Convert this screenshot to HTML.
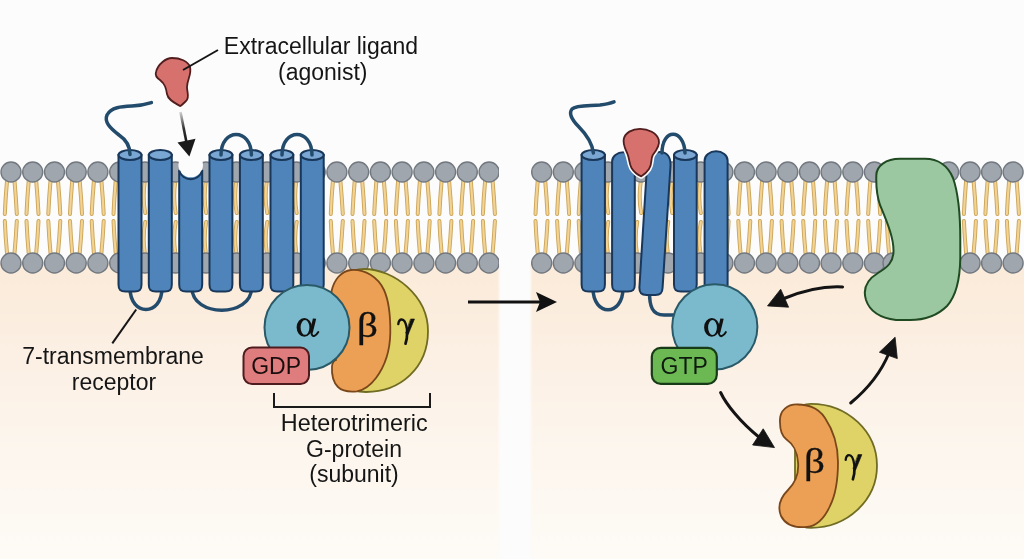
<!DOCTYPE html>
<html><head><meta charset="utf-8"><style>
html,body{margin:0;padding:0;background:#fcfcfc;}
svg{display:block;will-change:transform}
text{font-family:"Liberation Sans",sans-serif;}
</style></head><body>
<svg width="1024" height="559" viewBox="0 0 1024 559">
<defs>
<linearGradient id="peach" x1="0" y1="0" x2="0" y2="1">
<stop offset="0" stop-color="#fbead9"/>
<stop offset="0.3" stop-color="#fcf0e4"/>
<stop offset="0.6" stop-color="#fdf6ee"/>
<stop offset="1" stop-color="#fefcf8"/>
</linearGradient>
<filter id="soft" x="-0.1" y="-0.1" width="1.2" height="1.2"><feGaussianBlur stdDeviation="1.2"/></filter>
<linearGradient id="arrfade" gradientUnits="userSpaceOnUse" x1="180" y1="112" x2="187" y2="145"><stop offset="0" stop-color="#d4d4d4"/><stop offset="0.5" stop-color="#333"/><stop offset="1" stop-color="#111"/></linearGradient>
<clipPath id="clipL"><rect x="0" y="0" width="499" height="559"/></clipPath>
<clipPath id="clipR"><rect x="531" y="0" width="493" height="559"/></clipPath>
</defs>
<rect x="0" y="0" width="1024" height="559" fill="#fcfcfc"/>
<g filter="url(#soft)">
<rect x="-20" y="263" width="519" height="316" fill="url(#peach)"/>
<rect x="531" y="263" width="513" height="316" fill="url(#peach)"/>
</g>

<g clip-path="url(#clipL)"><path d="M144.7,182 Q142.4,198 145.2,213 M175.2,182 Q172.9,198 175.7,213 M205.7,182 Q203.4,198 206.2,213 M236.2,182 Q233.9,198 236.7,213 M266.7,182 Q264.4,198 267.2,213 M296.2,182 Q293.9,198 296.7,213 M145.2,222 Q142.4,237 144.7,252 M175.7,222 Q172.9,237 175.2,252 M206.2,222 Q203.4,237 205.7,252 M236.7,222 Q233.9,237 236.2,252 M267.2,222 Q264.4,237 266.7,252 M296.7,222 Q293.9,237 296.2,252 M7.0,181 Q5.5,198 4.8,214 M14.5,181 Q16.0,198 16.8,214 M28.7,181 Q27.2,198 26.5,214 M36.2,181 Q37.7,198 38.5,214 M50.5,181 Q49.0,198 48.3,214 M58.0,181 Q59.5,198 60.3,214 M72.2,181 Q70.7,198 70.0,214 M79.7,181 Q81.2,198 82.0,214 M93.9,181 Q92.4,198 91.7,214 M101.4,181 Q102.9,198 103.7,214 M115.7,181 Q114.2,198 113.5,214 M123.2,181 Q124.7,198 125.5,214 M311.2,181 Q309.7,198 309.0,214 M318.7,181 Q320.2,198 321.0,214 M332.9,181 Q331.4,198 330.8,214 M340.4,181 Q341.9,198 342.8,214 M354.7,181 Q353.2,198 352.5,214 M362.2,181 Q363.7,198 364.5,214 M376.4,181 Q374.9,198 374.2,214 M383.9,181 Q385.4,198 386.2,214 M398.1,181 Q396.6,198 395.9,214 M405.6,181 Q407.1,198 407.9,214 M419.9,181 Q418.4,198 417.7,214 M427.4,181 Q428.9,198 429.7,214 M441.6,181 Q440.1,198 439.4,214 M449.1,181 Q450.6,198 451.4,214 M463.3,181 Q461.8,198 461.1,214 M470.8,181 Q472.3,198 473.1,214 M485.1,181 Q483.6,198 482.9,214 M492.6,181 Q494.1,198 494.9,214 M4.8,221 Q5.5,237 7.0,253 M16.8,221 Q16.0,237 14.5,253 M26.5,221 Q27.2,237 28.7,253 M38.5,221 Q37.7,237 36.2,253 M48.3,221 Q49.0,237 50.5,253 M60.3,221 Q59.5,237 58.0,253 M70.0,221 Q70.7,237 72.2,253 M82.0,221 Q81.2,237 79.7,253 M91.7,221 Q92.4,237 93.9,253 M103.7,221 Q102.9,237 101.4,253 M113.5,221 Q114.2,237 115.7,253 M125.5,221 Q124.7,237 123.2,253 M309.0,221 Q309.7,237 311.2,253 M321.0,221 Q320.2,237 318.7,253 M330.8,221 Q331.4,237 332.9,253 M342.8,221 Q341.9,237 340.4,253 M352.5,221 Q353.2,237 354.7,253 M364.5,221 Q363.7,237 362.2,253 M374.2,221 Q374.9,237 376.4,253 M386.2,221 Q385.4,237 383.9,253 M395.9,221 Q396.6,237 398.1,253 M407.9,221 Q407.1,237 405.6,253 M417.7,221 Q418.4,237 419.9,253 M429.7,221 Q428.9,237 427.4,253 M439.4,221 Q440.1,237 441.6,253 M451.4,221 Q450.6,237 449.1,253 M461.1,221 Q461.8,237 463.3,253 M473.1,221 Q472.3,237 470.8,253 M482.9,221 Q483.6,237 485.1,253 M494.9,221 Q494.1,237 492.6,253" fill="none" stroke="#cba458" stroke-width="4" stroke-linecap="round"/>
<path d="M144.7,182 Q142.4,198 145.2,213 M175.2,182 Q172.9,198 175.7,213 M205.7,182 Q203.4,198 206.2,213 M236.2,182 Q233.9,198 236.7,213 M266.7,182 Q264.4,198 267.2,213 M296.2,182 Q293.9,198 296.7,213 M145.2,222 Q142.4,237 144.7,252 M175.7,222 Q172.9,237 175.2,252 M206.2,222 Q203.4,237 205.7,252 M236.7,222 Q233.9,237 236.2,252 M267.2,222 Q264.4,237 266.7,252 M296.7,222 Q293.9,237 296.2,252 M7.0,181 Q5.5,198 4.8,214 M14.5,181 Q16.0,198 16.8,214 M28.7,181 Q27.2,198 26.5,214 M36.2,181 Q37.7,198 38.5,214 M50.5,181 Q49.0,198 48.3,214 M58.0,181 Q59.5,198 60.3,214 M72.2,181 Q70.7,198 70.0,214 M79.7,181 Q81.2,198 82.0,214 M93.9,181 Q92.4,198 91.7,214 M101.4,181 Q102.9,198 103.7,214 M115.7,181 Q114.2,198 113.5,214 M123.2,181 Q124.7,198 125.5,214 M311.2,181 Q309.7,198 309.0,214 M318.7,181 Q320.2,198 321.0,214 M332.9,181 Q331.4,198 330.8,214 M340.4,181 Q341.9,198 342.8,214 M354.7,181 Q353.2,198 352.5,214 M362.2,181 Q363.7,198 364.5,214 M376.4,181 Q374.9,198 374.2,214 M383.9,181 Q385.4,198 386.2,214 M398.1,181 Q396.6,198 395.9,214 M405.6,181 Q407.1,198 407.9,214 M419.9,181 Q418.4,198 417.7,214 M427.4,181 Q428.9,198 429.7,214 M441.6,181 Q440.1,198 439.4,214 M449.1,181 Q450.6,198 451.4,214 M463.3,181 Q461.8,198 461.1,214 M470.8,181 Q472.3,198 473.1,214 M485.1,181 Q483.6,198 482.9,214 M492.6,181 Q494.1,198 494.9,214 M4.8,221 Q5.5,237 7.0,253 M16.8,221 Q16.0,237 14.5,253 M26.5,221 Q27.2,237 28.7,253 M38.5,221 Q37.7,237 36.2,253 M48.3,221 Q49.0,237 50.5,253 M60.3,221 Q59.5,237 58.0,253 M70.0,221 Q70.7,237 72.2,253 M82.0,221 Q81.2,237 79.7,253 M91.7,221 Q92.4,237 93.9,253 M103.7,221 Q102.9,237 101.4,253 M113.5,221 Q114.2,237 115.7,253 M125.5,221 Q124.7,237 123.2,253 M309.0,221 Q309.7,237 311.2,253 M321.0,221 Q320.2,237 318.7,253 M330.8,221 Q331.4,237 332.9,253 M342.8,221 Q341.9,237 340.4,253 M352.5,221 Q353.2,237 354.7,253 M364.5,221 Q363.7,237 362.2,253 M374.2,221 Q374.9,237 376.4,253 M386.2,221 Q385.4,237 383.9,253 M395.9,221 Q396.6,237 398.1,253 M407.9,221 Q407.1,237 405.6,253 M417.7,221 Q418.4,237 419.9,253 M429.7,221 Q428.9,237 427.4,253 M439.4,221 Q440.1,237 441.6,253 M451.4,221 Q450.6,237 449.1,253 M461.1,221 Q461.8,237 463.3,253 M473.1,221 Q472.3,237 470.8,253 M482.9,221 Q483.6,237 485.1,253 M494.9,221 Q494.1,237 492.6,253" fill="none" stroke="#f2d393" stroke-width="2.2" stroke-linecap="round"/>
<circle cx="11.0" cy="172" r="10" fill="#a0a6ae" stroke="#72787f" stroke-width="1.4"/>
<circle cx="32.7" cy="172" r="10" fill="#a0a6ae" stroke="#72787f" stroke-width="1.4"/>
<circle cx="54.5" cy="172" r="10" fill="#a0a6ae" stroke="#72787f" stroke-width="1.4"/>
<circle cx="76.2" cy="172" r="10" fill="#a0a6ae" stroke="#72787f" stroke-width="1.4"/>
<circle cx="97.9" cy="172" r="10" fill="#a0a6ae" stroke="#72787f" stroke-width="1.4"/>
<circle cx="119.7" cy="172" r="10" fill="#a0a6ae" stroke="#72787f" stroke-width="1.4"/>
<circle cx="315.2" cy="172" r="10" fill="#a0a6ae" stroke="#72787f" stroke-width="1.4"/>
<circle cx="336.9" cy="172" r="10" fill="#a0a6ae" stroke="#72787f" stroke-width="1.4"/>
<circle cx="358.7" cy="172" r="10" fill="#a0a6ae" stroke="#72787f" stroke-width="1.4"/>
<circle cx="380.4" cy="172" r="10" fill="#a0a6ae" stroke="#72787f" stroke-width="1.4"/>
<circle cx="402.1" cy="172" r="10" fill="#a0a6ae" stroke="#72787f" stroke-width="1.4"/>
<circle cx="423.9" cy="172" r="10" fill="#a0a6ae" stroke="#72787f" stroke-width="1.4"/>
<circle cx="445.6" cy="172" r="10" fill="#a0a6ae" stroke="#72787f" stroke-width="1.4"/>
<circle cx="467.3" cy="172" r="10" fill="#a0a6ae" stroke="#72787f" stroke-width="1.4"/>
<circle cx="489.1" cy="172" r="10" fill="#a0a6ae" stroke="#72787f" stroke-width="1.4"/>
<circle cx="11.0" cy="263" r="10" fill="#a0a6ae" stroke="#72787f" stroke-width="1.4"/>
<circle cx="32.7" cy="263" r="10" fill="#a0a6ae" stroke="#72787f" stroke-width="1.4"/>
<circle cx="54.5" cy="263" r="10" fill="#a0a6ae" stroke="#72787f" stroke-width="1.4"/>
<circle cx="76.2" cy="263" r="10" fill="#a0a6ae" stroke="#72787f" stroke-width="1.4"/>
<circle cx="97.9" cy="263" r="10" fill="#a0a6ae" stroke="#72787f" stroke-width="1.4"/>
<circle cx="119.7" cy="263" r="10" fill="#a0a6ae" stroke="#72787f" stroke-width="1.4"/>
<circle cx="315.2" cy="263" r="10" fill="#a0a6ae" stroke="#72787f" stroke-width="1.4"/>
<circle cx="336.9" cy="263" r="10" fill="#a0a6ae" stroke="#72787f" stroke-width="1.4"/>
<circle cx="358.7" cy="263" r="10" fill="#a0a6ae" stroke="#72787f" stroke-width="1.4"/>
<circle cx="380.4" cy="263" r="10" fill="#a0a6ae" stroke="#72787f" stroke-width="1.4"/>
<circle cx="402.1" cy="263" r="10" fill="#a0a6ae" stroke="#72787f" stroke-width="1.4"/>
<circle cx="423.9" cy="263" r="10" fill="#a0a6ae" stroke="#72787f" stroke-width="1.4"/>
<circle cx="445.6" cy="263" r="10" fill="#a0a6ae" stroke="#72787f" stroke-width="1.4"/>
<circle cx="467.3" cy="263" r="10" fill="#a0a6ae" stroke="#72787f" stroke-width="1.4"/>
<circle cx="489.1" cy="263" r="10" fill="#a0a6ae" stroke="#72787f" stroke-width="1.4"/><circle cx="145" cy="172" r="10" fill="#a0a6ae" stroke="#72787f" stroke-width="1.4"/><circle cx="145" cy="263" r="10" fill="#a0a6ae" stroke="#72787f" stroke-width="1.4"/><circle cx="175.5" cy="172" r="10" fill="#a0a6ae" stroke="#72787f" stroke-width="1.4"/><circle cx="175.5" cy="263" r="10" fill="#a0a6ae" stroke="#72787f" stroke-width="1.4"/><circle cx="206" cy="172" r="10" fill="#a0a6ae" stroke="#72787f" stroke-width="1.4"/><circle cx="206" cy="263" r="10" fill="#a0a6ae" stroke="#72787f" stroke-width="1.4"/><circle cx="236.5" cy="172" r="10" fill="#a0a6ae" stroke="#72787f" stroke-width="1.4"/><circle cx="236.5" cy="263" r="10" fill="#a0a6ae" stroke="#72787f" stroke-width="1.4"/><circle cx="267" cy="172" r="10" fill="#a0a6ae" stroke="#72787f" stroke-width="1.4"/><circle cx="267" cy="263" r="10" fill="#a0a6ae" stroke="#72787f" stroke-width="1.4"/><circle cx="296.5" cy="172" r="10" fill="#a0a6ae" stroke="#72787f" stroke-width="1.4"/><circle cx="296.5" cy="263" r="10" fill="#a0a6ae" stroke="#72787f" stroke-width="1.4"/></g>
<g clip-path="url(#clipR)"><path d="M607.7,182 Q605.4,198 608.2,213 M640.7,182 Q638.4,198 641.2,213 M671.7,182 Q669.4,198 672.2,213 M700.3,182 Q698.0,198 700.8,213 M608.2,222 Q605.4,237 607.7,252 M637.2,222 Q634.4,237 636.7,252 M668.2,222 Q665.4,237 667.7,252 M700.8,222 Q698.0,237 700.3,252 M537.7,181 Q536.2,198 535.5,214 M545.2,181 Q546.7,198 547.5,214 M559.3,181 Q557.8,198 557.1,214 M566.8,181 Q568.3,198 569.1,214 M580.9,181 Q579.4,198 578.7,214 M588.4,181 Q589.9,198 590.7,214 M718.9,181 Q717.4,198 716.6,214 M726.4,181 Q727.9,198 728.6,214 M740.5,181 Q739.0,198 738.3,214 M748.0,181 Q749.5,198 750.3,214 M762.1,181 Q760.6,198 759.9,214 M769.6,181 Q771.1,198 771.9,214 M783.8,181 Q782.3,198 781.6,214 M791.3,181 Q792.8,198 793.6,214 M805.5,181 Q804.0,198 803.2,214 M813.0,181 Q814.5,198 815.2,214 M827.1,181 Q825.6,198 824.9,214 M834.6,181 Q836.1,198 836.9,214 M848.8,181 Q847.2,198 846.5,214 M856.2,181 Q857.8,198 858.5,214 M870.4,181 Q868.9,198 868.2,214 M877.9,181 Q879.4,198 880.2,214 M944.6,181 Q943.1,198 942.4,214 M952.1,181 Q953.6,198 954.4,214 M966.1,181 Q964.6,198 963.9,214 M973.6,181 Q975.1,198 975.9,214 M987.6,181 Q986.1,198 985.4,214 M995.1,181 Q996.6,198 997.4,214 M1009.1,181 Q1007.6,198 1006.9,214 M1016.6,181 Q1018.1,198 1018.9,214 M535.5,221 Q536.2,237 537.7,253 M547.5,221 Q546.7,237 545.2,253 M557.1,221 Q557.8,237 559.3,253 M569.1,221 Q568.3,237 566.8,253 M578.7,221 Q579.4,237 580.9,253 M590.7,221 Q589.9,237 588.4,253 M716.6,221 Q717.4,237 718.9,253 M728.6,221 Q727.9,237 726.4,253 M738.3,221 Q739.0,237 740.5,253 M750.3,221 Q749.5,237 748.0,253 M759.9,221 Q760.6,237 762.1,253 M771.9,221 Q771.1,237 769.6,253 M781.6,221 Q782.3,237 783.8,253 M793.6,221 Q792.8,237 791.3,253 M803.2,221 Q804.0,237 805.5,253 M815.2,221 Q814.5,237 813.0,253 M824.9,221 Q825.6,237 827.1,253 M836.9,221 Q836.1,237 834.6,253 M846.5,221 Q847.2,237 848.8,253 M858.5,221 Q857.8,237 856.2,253 M868.2,221 Q868.9,237 870.4,253 M880.2,221 Q879.4,237 877.9,253 M942.4,221 Q943.1,237 944.6,253 M954.4,221 Q953.6,237 952.1,253 M963.9,221 Q964.6,237 966.1,253 M975.9,221 Q975.1,237 973.6,253 M985.4,221 Q986.1,237 987.6,253 M997.4,221 Q996.6,237 995.1,253 M1006.9,221 Q1007.6,237 1009.1,253 M1018.9,221 Q1018.1,237 1016.6,253 M886.8,221 Q887.5,237 889.0,253 M898.8,221 Q898.0,237 896.5,253" fill="none" stroke="#cba458" stroke-width="4" stroke-linecap="round"/>
<path d="M607.7,182 Q605.4,198 608.2,213 M640.7,182 Q638.4,198 641.2,213 M671.7,182 Q669.4,198 672.2,213 M700.3,182 Q698.0,198 700.8,213 M608.2,222 Q605.4,237 607.7,252 M637.2,222 Q634.4,237 636.7,252 M668.2,222 Q665.4,237 667.7,252 M700.8,222 Q698.0,237 700.3,252 M537.7,181 Q536.2,198 535.5,214 M545.2,181 Q546.7,198 547.5,214 M559.3,181 Q557.8,198 557.1,214 M566.8,181 Q568.3,198 569.1,214 M580.9,181 Q579.4,198 578.7,214 M588.4,181 Q589.9,198 590.7,214 M718.9,181 Q717.4,198 716.6,214 M726.4,181 Q727.9,198 728.6,214 M740.5,181 Q739.0,198 738.3,214 M748.0,181 Q749.5,198 750.3,214 M762.1,181 Q760.6,198 759.9,214 M769.6,181 Q771.1,198 771.9,214 M783.8,181 Q782.3,198 781.6,214 M791.3,181 Q792.8,198 793.6,214 M805.5,181 Q804.0,198 803.2,214 M813.0,181 Q814.5,198 815.2,214 M827.1,181 Q825.6,198 824.9,214 M834.6,181 Q836.1,198 836.9,214 M848.8,181 Q847.2,198 846.5,214 M856.2,181 Q857.8,198 858.5,214 M870.4,181 Q868.9,198 868.2,214 M877.9,181 Q879.4,198 880.2,214 M944.6,181 Q943.1,198 942.4,214 M952.1,181 Q953.6,198 954.4,214 M966.1,181 Q964.6,198 963.9,214 M973.6,181 Q975.1,198 975.9,214 M987.6,181 Q986.1,198 985.4,214 M995.1,181 Q996.6,198 997.4,214 M1009.1,181 Q1007.6,198 1006.9,214 M1016.6,181 Q1018.1,198 1018.9,214 M535.5,221 Q536.2,237 537.7,253 M547.5,221 Q546.7,237 545.2,253 M557.1,221 Q557.8,237 559.3,253 M569.1,221 Q568.3,237 566.8,253 M578.7,221 Q579.4,237 580.9,253 M590.7,221 Q589.9,237 588.4,253 M716.6,221 Q717.4,237 718.9,253 M728.6,221 Q727.9,237 726.4,253 M738.3,221 Q739.0,237 740.5,253 M750.3,221 Q749.5,237 748.0,253 M759.9,221 Q760.6,237 762.1,253 M771.9,221 Q771.1,237 769.6,253 M781.6,221 Q782.3,237 783.8,253 M793.6,221 Q792.8,237 791.3,253 M803.2,221 Q804.0,237 805.5,253 M815.2,221 Q814.5,237 813.0,253 M824.9,221 Q825.6,237 827.1,253 M836.9,221 Q836.1,237 834.6,253 M846.5,221 Q847.2,237 848.8,253 M858.5,221 Q857.8,237 856.2,253 M868.2,221 Q868.9,237 870.4,253 M880.2,221 Q879.4,237 877.9,253 M942.4,221 Q943.1,237 944.6,253 M954.4,221 Q953.6,237 952.1,253 M963.9,221 Q964.6,237 966.1,253 M975.9,221 Q975.1,237 973.6,253 M985.4,221 Q986.1,237 987.6,253 M997.4,221 Q996.6,237 995.1,253 M1006.9,221 Q1007.6,237 1009.1,253 M1018.9,221 Q1018.1,237 1016.6,253 M886.8,221 Q887.5,237 889.0,253 M898.8,221 Q898.0,237 896.5,253" fill="none" stroke="#f2d393" stroke-width="2.2" stroke-linecap="round"/>
<circle cx="541.7" cy="172" r="10" fill="#a0a6ae" stroke="#72787f" stroke-width="1.4"/>
<circle cx="563.3" cy="172" r="10" fill="#a0a6ae" stroke="#72787f" stroke-width="1.4"/>
<circle cx="584.9" cy="172" r="10" fill="#a0a6ae" stroke="#72787f" stroke-width="1.4"/>
<circle cx="722.9" cy="172" r="10" fill="#a0a6ae" stroke="#72787f" stroke-width="1.4"/>
<circle cx="744.5" cy="172" r="10" fill="#a0a6ae" stroke="#72787f" stroke-width="1.4"/>
<circle cx="766.1" cy="172" r="10" fill="#a0a6ae" stroke="#72787f" stroke-width="1.4"/>
<circle cx="787.8" cy="172" r="10" fill="#a0a6ae" stroke="#72787f" stroke-width="1.4"/>
<circle cx="809.5" cy="172" r="10" fill="#a0a6ae" stroke="#72787f" stroke-width="1.4"/>
<circle cx="831.1" cy="172" r="10" fill="#a0a6ae" stroke="#72787f" stroke-width="1.4"/>
<circle cx="852.8" cy="172" r="10" fill="#a0a6ae" stroke="#72787f" stroke-width="1.4"/>
<circle cx="874.4" cy="172" r="10" fill="#a0a6ae" stroke="#72787f" stroke-width="1.4"/>
<circle cx="948.6" cy="172" r="10" fill="#a0a6ae" stroke="#72787f" stroke-width="1.4"/>
<circle cx="970.1" cy="172" r="10" fill="#a0a6ae" stroke="#72787f" stroke-width="1.4"/>
<circle cx="991.6" cy="172" r="10" fill="#a0a6ae" stroke="#72787f" stroke-width="1.4"/>
<circle cx="1013.1" cy="172" r="10" fill="#a0a6ae" stroke="#72787f" stroke-width="1.4"/>
<circle cx="541.7" cy="263" r="10" fill="#a0a6ae" stroke="#72787f" stroke-width="1.4"/>
<circle cx="563.3" cy="263" r="10" fill="#a0a6ae" stroke="#72787f" stroke-width="1.4"/>
<circle cx="584.9" cy="263" r="10" fill="#a0a6ae" stroke="#72787f" stroke-width="1.4"/>
<circle cx="722.9" cy="263" r="10" fill="#a0a6ae" stroke="#72787f" stroke-width="1.4"/>
<circle cx="744.5" cy="263" r="10" fill="#a0a6ae" stroke="#72787f" stroke-width="1.4"/>
<circle cx="766.1" cy="263" r="10" fill="#a0a6ae" stroke="#72787f" stroke-width="1.4"/>
<circle cx="787.8" cy="263" r="10" fill="#a0a6ae" stroke="#72787f" stroke-width="1.4"/>
<circle cx="809.5" cy="263" r="10" fill="#a0a6ae" stroke="#72787f" stroke-width="1.4"/>
<circle cx="831.1" cy="263" r="10" fill="#a0a6ae" stroke="#72787f" stroke-width="1.4"/>
<circle cx="852.8" cy="263" r="10" fill="#a0a6ae" stroke="#72787f" stroke-width="1.4"/>
<circle cx="874.4" cy="263" r="10" fill="#a0a6ae" stroke="#72787f" stroke-width="1.4"/>
<circle cx="948.6" cy="263" r="10" fill="#a0a6ae" stroke="#72787f" stroke-width="1.4"/>
<circle cx="970.1" cy="263" r="10" fill="#a0a6ae" stroke="#72787f" stroke-width="1.4"/>
<circle cx="991.6" cy="263" r="10" fill="#a0a6ae" stroke="#72787f" stroke-width="1.4"/>
<circle cx="1013.1" cy="263" r="10" fill="#a0a6ae" stroke="#72787f" stroke-width="1.4"/>
<circle cx="893.0" cy="263" r="10" fill="#a0a6ae" stroke="#72787f" stroke-width="1.4"/><circle cx="608" cy="172" r="10" fill="#a0a6ae" stroke="#72787f" stroke-width="1.4"/><circle cx="641" cy="172" r="10" fill="#a0a6ae" stroke="#72787f" stroke-width="1.4"/><circle cx="672" cy="172" r="10" fill="#a0a6ae" stroke="#72787f" stroke-width="1.4"/><circle cx="700.6" cy="172" r="10" fill="#a0a6ae" stroke="#72787f" stroke-width="1.4"/><circle cx="608" cy="263" r="10" fill="#a0a6ae" stroke="#72787f" stroke-width="1.4"/><circle cx="637" cy="263" r="10" fill="#a0a6ae" stroke="#72787f" stroke-width="1.4"/><circle cx="668" cy="263" r="10" fill="#a0a6ae" stroke="#72787f" stroke-width="1.4"/><circle cx="700.6" cy="263" r="10" fill="#a0a6ae" stroke="#72787f" stroke-width="1.4"/></g>
<path d="M130,288 C130,316.5 162,316.5 162,288" fill="none" stroke="#234b6c" stroke-width="3.5"/>
<path d="M192,288 C192,317.5 251.5,317.5 251.5,288" fill="none" stroke="#234b6c" stroke-width="3.5"/>
<path d="M118.5,155 L118.5,284.5 C118.5,290.0 120.5,291.5 125.5,291.5 L134.5,291.5 C139.5,291.5 141.5,290.0 141.5,284.5 L141.5,155 Z" fill="#4e84ba" stroke="#18375a" stroke-width="2"/>
<ellipse cx="130.0" cy="155" rx="11.5" ry="5" fill="#79a6d2" stroke="#18375a" stroke-width="2"/>
<path d="M148.8,155 L148.8,284.5 C148.8,290.0 150.8,291.5 155.8,291.5 L164.8,291.5 C169.8,291.5 171.8,290.0 171.8,284.5 L171.8,155 Z" fill="#4e84ba" stroke="#18375a" stroke-width="2"/>
<ellipse cx="160.3" cy="155" rx="11.5" ry="5" fill="#79a6d2" stroke="#18375a" stroke-width="2"/>
<path d="M179.2,170.8 L179.2,284.5 C179.2,290.0 181.2,291.5 186.2,291.5 L195.2,291.5 C200.2,291.5 202.2,290.0 202.2,284.5 L202.2,170.8 Z" fill="#4e84ba" stroke="#18375a" stroke-width="2"/>
<path d="M209.5,155 L209.5,284.5 C209.5,290.0 211.5,291.5 216.5,291.5 L225.4,291.5 C230.4,291.5 232.4,290.0 232.4,284.5 L232.4,155 Z" fill="#4e84ba" stroke="#18375a" stroke-width="2"/>
<ellipse cx="220.95" cy="155" rx="11.450000000000003" ry="5" fill="#79a6d2" stroke="#18375a" stroke-width="2"/>
<path d="M239.9,155 L239.9,284.5 C239.9,290.0 241.9,291.5 246.9,291.5 L255.8,291.5 C260.8,291.5 262.8,290.0 262.8,284.5 L262.8,155 Z" fill="#4e84ba" stroke="#18375a" stroke-width="2"/>
<ellipse cx="251.35000000000002" cy="155" rx="11.450000000000003" ry="5" fill="#79a6d2" stroke="#18375a" stroke-width="2"/>
<path d="M270.5,155 L270.5,284.5 C270.5,290.0 272.5,291.5 277.5,291.5 L286.3,291.5 C291.3,291.5 293.3,290.0 293.3,284.5 L293.3,155 Z" fill="#4e84ba" stroke="#18375a" stroke-width="2"/>
<ellipse cx="281.9" cy="155" rx="11.400000000000006" ry="5" fill="#79a6d2" stroke="#18375a" stroke-width="2"/>
<path d="M300.8,155 L300.8,284.5 C300.8,290.0 302.8,291.5 307.8,291.5 L316.7,291.5 C321.7,291.5 323.7,290.0 323.7,284.5 L323.7,155 Z" fill="#4e84ba" stroke="#18375a" stroke-width="2"/>
<ellipse cx="312.25" cy="155" rx="11.449999999999989" ry="5" fill="#79a6d2" stroke="#18375a" stroke-width="2"/>
<circle cx="190.7" cy="165" r="12.3" fill="#fcfcfc"/>
<path d="M179.2,170.8 A12.1,12.1 0 0 0 202.2,170.8" fill="none" stroke="#18375a" stroke-width="2"/>
<path d="M130,154.5 C130,144 125,139 119,135 C110,128 104,122 107,115 C111,107 122,106.5 132,106 C142,105.5 147,104 151.4,102.6" fill="none" stroke="#234b6c" stroke-width="3.5" stroke-linecap="round"/>
<path d="M221,155 C221,127.5 251.4,127.5 251.4,155" fill="none" stroke="#234b6c" stroke-width="3.5" stroke-linecap="round"/>
<path d="M282,155 C282,127.5 312,127.5 312,155" fill="none" stroke="#234b6c" stroke-width="3.5" stroke-linecap="round"/>
<path d="M156,72 C158,64 166,58 172,58 C180,58 188,61 190,67 C192,74 187,80 187,87 C187,93 190,98 186,101 C183,104 181,106 180,106 C175,103 168,100 167,94 C166,88 165,84 160,80 C157,78 155,75 156,72 Z" fill="#d6716d" stroke="#521d1e" stroke-width="1.8"/>
<line x1="183" y1="70" x2="218" y2="50" stroke="#151515" stroke-width="1.9"/>
<path d="M180.5,112 L187,145" stroke="url(#arrfade)" stroke-width="2.6" fill="none"/>
<path d="M177.5,142.5 L195.5,138.8 L189.4,156.5 Z" fill="#1a1a1a"/>
<path d="M345,275 C352,270 358,269 364,269 C394,269 428,296 428,331 C428,368 400,392 366,392 C358,392 350,390 345,385 Z" fill="#dfd266" stroke="#706c24" stroke-width="1.8"/>
<path d="M331.6,291 C334,280 341,271 351,270 C365,269 378,277 384,290 C389,301 390.5,317 390.3,333 C390,350 385,366 376,378 C370,386 364,390 357,391.3 C350,392 342,391 338,387 C333,382 331.5,374 332,366 C332.5,362 334,360.5 336,359.8 L330,325 Z" fill="#eca056" stroke="#7a471a" stroke-width="1.8"/>
<circle cx="307" cy="327.5" r="42.5" fill="#7bbacc" stroke="#2a5a68" stroke-width="2"/>
<rect x="243.5" y="347.5" width="65.5" height="36.5" rx="8.5" fill="#df7c7e" stroke="#4e1c1e" stroke-width="2"/>
<text x="276.1" y="373.9" font-size="23" text-anchor="middle" fill="#1a0d0d">GDP</text>
<g transform="translate(296.6,317.9)" fill="#111"><path fill-rule="evenodd" d="M0,9.45 A7.7,9.4 0 1 0 15.4,9.45 A7.7,9.4 0 1 0 0,9.45 Z M4,9.55 A4.4,7.4 0 1 0 12.8,9.55 A4.4,7.4 0 1 0 4,9.55 Z"/><path d="M16.3,0.6 L19.6,0.8 L16.2,14.8 L13,14.6 Z"/><path d="M14.6,13.5 C14.7,17.3 16.3,18.7 17.9,18 C19.4,17.3 20.8,15.7 21.7,14.2" fill="none" stroke="#111" stroke-width="2" stroke-linecap="round"/></g>
<text transform="translate(367.5,337.1) scale(1.16,1)" x="0" y="0" font-size="35.5" text-anchor="middle" fill="#111" stroke="#111" stroke-width="0.3" style="font-family:'Liberation Serif',serif">β</text>
<g transform="translate(397.3,318.7)" fill="none" stroke="#111" stroke-linecap="round"><path d="M1,5.5 C1.3,2 3,0.8 4.5,0.8 C7,0.8 8.6,4 9.5,10 L10,15" stroke-width="2.3"/><path d="M13.6,0.3 L17.2,0.3 L11,15.5 L8.6,14.5 Z" fill="#111" stroke-width="0.6" stroke-linejoin="round"/><path d="M9.8,14 C9.9,19 9.3,22 8.2,25" stroke-width="2.7"/></g>
<path d="M274,393 L274,407 L430,407 L430,393" fill="none" stroke="#1a1a1a" stroke-width="2"/>
<text x="321" y="54" font-size="23" text-anchor="middle" fill="#151515">Extracellular ligand</text>
<text x="322.8" y="80.2" font-size="23" text-anchor="middle" fill="#151515">(agonist)</text>
<text x="113" y="364" font-size="23" text-anchor="middle" fill="#151515">7-transmembrane</text>
<text x="114" y="390.2" font-size="23" text-anchor="middle" fill="#151515">receptor</text>
<line x1="136.2" y1="309.5" x2="112.3" y2="343.3" stroke="#151515" stroke-width="2"/>
<text x="354.2" y="430.8" font-size="23.4" text-anchor="middle" fill="#151515">Heterotrimeric</text>
<text x="354" y="456.6" font-size="23" text-anchor="middle" fill="#151515">G-protein</text>
<text x="354" y="482.3" font-size="23" text-anchor="middle" fill="#151515">(subunit)</text>
<line x1="468" y1="302" x2="545" y2="302" stroke="#111" stroke-width="3"/>
<path d="M536,292 L557,302 L536,312 L540,302 Z" fill="#111"/>
<path d="M593,288 C593,317 623,317 623,288" fill="none" stroke="#234b6c" stroke-width="3.5"/>
<path d="M649.5,292 C649.5,306 652,315 664,315 L678,315" fill="none" stroke="#234b6c" stroke-width="3.5"/>
<path d="M581.6,155 L581.6,284.5 C581.6,290.0 583.6,291.5 588.6,291.5 L597.9,291.5 C602.9,291.5 604.9,290.0 604.9,284.5 L604.9,155 Z" fill="#4e84ba" stroke="#18375a" stroke-width="2"/>
<ellipse cx="593.25" cy="155" rx="11.649999999999977" ry="5" fill="#79a6d2" stroke="#18375a" stroke-width="2"/>
<path d="M612.1,161.34999999999997 A11.349999999999966,9.079999999999973 0 0 1 634.8,161.34999999999997 L634.8,284.5 C634.8,290.0 632.8,291.5 627.8,291.5 L619.1,291.5 C614.1,291.5 612.1,290.0 612.1,284.5 Z" fill="#4e84ba" stroke="#18375a" stroke-width="2"/>
<path d="M647,166 Q649,152 659.5,152 Q671,152 670.5,166 L662.6,287.5 C662.5,293 660.5,295 655.5,295 L646.5,295 C641.5,295 639.3,293 639.4,287.5 Z" fill="#4e84ba" stroke="#18375a" stroke-width="2"/>
<path d="M674,155 L674,284.5 C674,290.0 676,291.5 681,291.5 L689.7,291.5 C694.7,291.5 696.7,290.0 696.7,284.5 L696.7,155 Z" fill="#4e84ba" stroke="#18375a" stroke-width="2"/>
<ellipse cx="685.35" cy="155" rx="11.350000000000023" ry="5" fill="#79a6d2" stroke="#18375a" stroke-width="2"/>
<path d="M704.6,160.5 A11.5,9.200000000000001 0 0 1 727.6,160.5 L727.6,284.5 C727.6,290.0 725.6,291.5 720.6,291.5 L711.6,291.5 C706.6,291.5 704.6,290.0 704.6,284.5 Z" fill="#4e84ba" stroke="#18375a" stroke-width="2"/>
<path d="M593.4,153 C592,142 586,134 579,127 C572,120 568,114 572,109 C576,105 590,106 600,105 C607,104 611,103 614,101.8" fill="none" stroke="#234b6c" stroke-width="3.5" stroke-linecap="round"/>
<path d="M662,153 C662,128 684,128 685,153" fill="none" stroke="#234b6c" stroke-width="3.5" stroke-linecap="round"/>
<path d="M623.8,138.8 C625,133 632,128.8 640,128.8 C648,128.8 657,133 658.8,140 C660,145 656,151 652.8,155 C650.5,159 652.5,164 649,169 C647,172 643.5,175 641.3,176.3 C638,175 634,172 631.5,168 C629,163 629.5,159 627.5,154 C626,150 622.5,145 623.8,138.8 Z" fill="#fcfcfc" stroke="#fcfcfc" stroke-width="5" stroke-linejoin="round"/>
<path d="M623.8,138.8 C625,133 632,128.8 640,128.8 C648,128.8 657,133 658.8,140 C660,145 656,151 652.8,155 C650.5,159 652.5,164 649,169 C647,172 643.5,175 641.3,176.3 C638,175 634,172 631.5,168 C629,163 629.5,159 627.5,154 C626,150 622.5,145 623.8,138.8 Z" fill="#d6716d" stroke="#521d1e" stroke-width="1.8"/>
<circle cx="714.8" cy="326.8" r="42.6" fill="#7bbacc" stroke="#2a5a68" stroke-width="2"/>
<g transform="translate(704.1,317.95)" fill="#111"><path fill-rule="evenodd" d="M0,9.45 A7.7,9.4 0 1 0 15.4,9.45 A7.7,9.4 0 1 0 0,9.45 Z M4,9.55 A4.4,7.4 0 1 0 12.8,9.55 A4.4,7.4 0 1 0 4,9.55 Z"/><path d="M16.3,0.6 L19.6,0.8 L16.2,14.8 L13,14.6 Z"/><path d="M14.6,13.5 C14.7,17.3 16.3,18.7 17.9,18 C19.4,17.3 20.8,15.7 21.7,14.2" fill="none" stroke="#111" stroke-width="2" stroke-linecap="round"/></g>
<rect x="651.8" y="347.8" width="65" height="36" rx="9" fill="#6cb953" stroke="#173a17" stroke-width="2.2"/>
<text x="684.2" y="374" font-size="23" text-anchor="middle" fill="#0d1a0d">GTP</text>
<path d="M876.3,176 C876,166 886,158.8 900,158.8 L925,158.8 C938,158.8 948,166 953,178 C958,192 960.3,215 960.3,240 L960.3,258 C960,280 956,296 947,306 C937,316 925,320 910,320 L896,320 C880,318 870,312 866,300 C862,287 868,279 878,273 C888,267 893,262 893.5,252 C894,238 887,222 880,205 C877,196 876,186 876.3,176 Z" fill="#9cc8a1" stroke="#1f4a22" stroke-width="2"/>
<path d="M795,410 C800,405 805,403.8 811,403.8 A66,62 0 0 1 811,527.8 C805,527.8 800,526 795,522 Z" fill="#dfd266" stroke="#706c24" stroke-width="1.8"/>
<path d="M780,422.6 C779,410 788,404 798,404.5 C806,405 817,406 825,418 C833,430 838,445 838,462 C838,478 836,494 830,506 C825,517 817,526 807,527 C796,528 786,526 781,516 C777,506 780,498 788,490 C796,482 799,472 798,462 C797,450 793,444 786,439 C781,435 780,430 780,422.6 Z" fill="#eca056" stroke="#7a471a" stroke-width="1.8"/>
<text transform="translate(814.6,473.1) scale(1.16,1)" x="0" y="0" font-size="35.5" text-anchor="middle" fill="#111" stroke="#111" stroke-width="0.3" style="font-family:'Liberation Serif',serif">β</text>
<g transform="translate(844.7,454.3)" fill="none" stroke="#111" stroke-linecap="round"><path d="M1,5.5 C1.3,2 3,0.8 4.5,0.8 C7,0.8 8.6,4 9.5,10 L10,15" stroke-width="2.3"/><path d="M13.6,0.3 L17.2,0.3 L11,15.5 L8.6,14.5 Z" fill="#111" stroke-width="0.6" stroke-linejoin="round"/><path d="M9.8,14 C9.9,19 9.3,22 8.2,25" stroke-width="2.7"/></g>
<path d="M842.6,287 C825,286 805,290 784,298.5" fill="none" stroke="#141414" stroke-width="3" stroke-linecap="round"/>
<path d="M767.5,305.9 L780.7,289.2 L788.6,307.2 Z" fill="#141414" stroke="#141414" stroke-width="0.8" stroke-linejoin="round"/>
<path d="M720.6,392.5 C726,404 740,422 760,438" fill="none" stroke="#141414" stroke-width="3" stroke-linecap="round"/>
<path d="M774.5,447.6 L763.2,428.8 L752.6,445 Z" fill="#141414" stroke="#141414" stroke-width="0.8" stroke-linejoin="round"/>
<path d="M850.7,403 C864,392 880,375 889,353" fill="none" stroke="#141414" stroke-width="3" stroke-linecap="round"/>
<path d="M895.1,337.2 L879.4,352.2 L897.3,358.6 Z" fill="#141414" stroke="#141414" stroke-width="0.8" stroke-linejoin="round"/>
</svg></body></html>
